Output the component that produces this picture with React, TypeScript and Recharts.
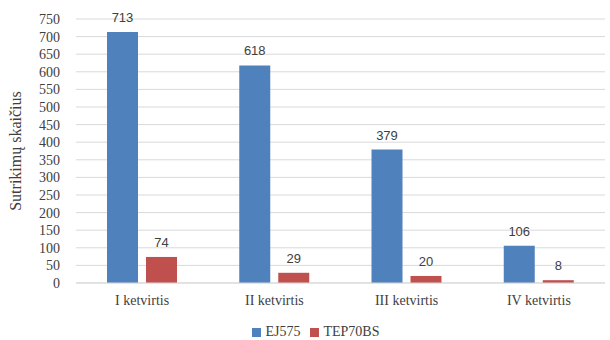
import React from 'react';
import { BarChart, Bar, XAxis, YAxis, CartesianGrid, Legend, LabelList, Label } from 'recharts';

const quarters = ['I ketvirtis', 'II ketvirtis', 'III ketvirtis', 'IV ketvirtis'];
const ej575 = [713, 618, 379, 106];
const tep70bs = [74, 29, 20, 8];
const yTicks = [0, 50, 100, 150, 200, 250, 300, 350, 400, 450, 500, 550, 600, 650, 700, 750];

const data = quarters.map((q, i) => ({
  quarter: q,
  EJ575: ej575[i],
  TEP70BS: tep70bs[i],
}));

const serif = '"Liberation Serif", "Times New Roman", serif';
const sans = '"Liberation Sans", Arial, sans-serif';
const textColor = '#404040';

// rotated axis title, placed from the axis viewBox
const YTitle = ({ viewBox }: any) => {
  const x = viewBox.x + 21;
  const y = viewBox.y + viewBox.height / 2;
  return (
    <text
      x={x}
      y={y}
      transform={`rotate(-90, ${x}, ${y})`}
      textAnchor="middle"
      style={{ fill: textColor, fontFamily: serif, fontSize: '16px' }}
    >
      Sutrikimų skaičius
    </text>
  );
};

const App: React.FC = () => {
  return (
    <div style={{ position: 'absolute', left: 0, top: 0, width: 610, height: 340, background: '#fff' }}>
      <BarChart
        width={610}
        height={340}
        data={data}
        margin={{ top: 19, right: 5, left: 0, bottom: 0 }}
        barSize={31}
        barGap={8}
      >
        <CartesianGrid vertical={false} stroke="#D9D9D9" />
        <XAxis
          dataKey="quarter"
          height={41}
          stroke="#D9D9D9"
          tickLine={false}
          tickSize={0}
          tickMargin={12}
          tick={{ fill: textColor, fontFamily: serif, fontSize: 14 }}
        />
        <YAxis
          width={76}
          domain={[0, 750]}
          ticks={yTicks}
          interval={0}
          axisLine={false}
          tickLine={false}
          tickSize={0}
          tickMargin={16}
          tick={{ fill: textColor, fontFamily: serif, fontSize: 14 }}
        >
          <Label content={<YTitle />} />
        </YAxis>
        <Legend
          verticalAlign="bottom"
          height={16}
          iconType="square"
          iconSize={9}
          wrapperStyle={{ fontFamily: serif, fontSize: 14, left: 246, width: 150 }}
          formatter={(value) => <span style={{ color: textColor }}>{value}</span>}
        />
        <Bar dataKey="EJ575" fill="#4F81BD" isAnimationActive={false}>
          <LabelList dataKey="EJ575" position="top" offset={10} fill={textColor} fontFamily={sans} fontSize={13} />
        </Bar>
        <Bar dataKey="TEP70BS" fill="#C0504D" isAnimationActive={false}>
          <LabelList dataKey="TEP70BS" position="top" offset={10} fill={textColor} fontFamily={sans} fontSize={13} />
        </Bar>
      </BarChart>
    </div>
  );
};

export default App;
